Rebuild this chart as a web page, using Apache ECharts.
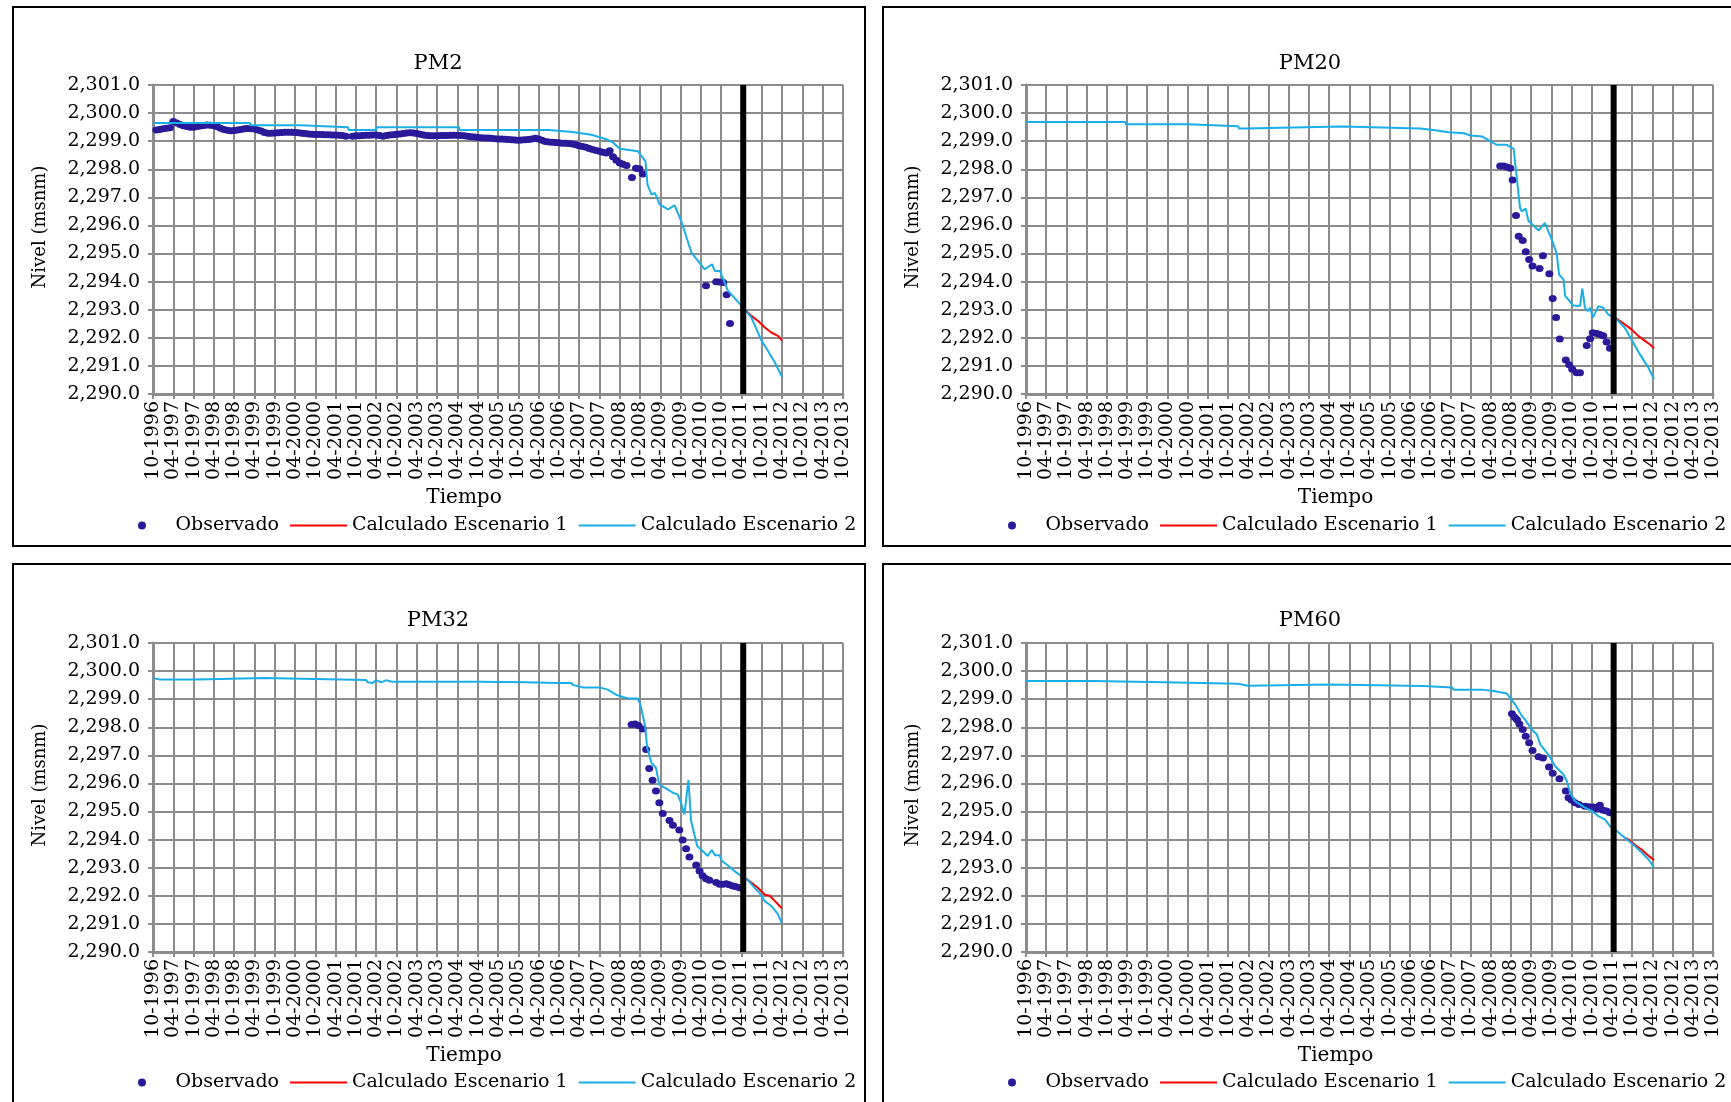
<!DOCTYPE html>
<html>
<head>
<meta charset="utf-8">
<script src="https://cdn.jsdelivr.net/npm/echarts@6/dist/echarts.min.js"></script>
<style>
html,body{margin:0;padding:0;background:#fff;width:1731px;height:1102px;overflow:hidden;position:relative;}
.panel{position:absolute;width:854px;height:541px;border:2px solid #000;box-sizing:border-box;background:#fff;}
.chart{position:absolute;left:0;top:0;width:850px;height:537px;}
</style>
</head>
<body>
<div class="panel" style="left:12px;top:6px"><div class="chart" id="c1"></div></div>
<div class="panel" style="left:882px;top:6px"><div class="chart" id="c2"></div></div>
<div class="panel" style="left:12px;top:563px"><div class="chart" id="c3"></div></div>
<div class="panel" style="left:882px;top:563px"><div class="chart" id="c4"></div></div>
<script>
// x values: months elapsed since October 1996
const xTickLabels = ['10-1996','04-1997','10-1997','04-1998','10-1998','04-1999','10-1999','04-2000','10-2000','04-2001','10-2001','04-2002','10-2002','04-2003','10-2003','04-2004','10-2004','04-2005','10-2005','04-2006','10-2006','04-2007','10-2007','04-2008','10-2008','04-2009','10-2009','04-2010','10-2010','04-2011','10-2011','04-2012','10-2012','04-2013','10-2013'];
const yMin = 2290, yMax = 2301, yStep = 1;
const cutMonth = 174.5;
const legendNames = ['Observado','Calculado Escenario 1','Calculado Escenario 2'];

// ---------- PM2 ----------
const pm2Obs = [[1,2299.40],[2,2299.42],[3,2299.44],[4,2299.46],[5,2299.48],[6,2299.70],[7,2299.65],[8,2299.59],[9,2299.55],[10,2299.52],[11,2299.50],[12,2299.50],[13,2299.52],[14,2299.54],[15,2299.56],[16,2299.58],[17,2299.57],[18,2299.55],[19,2299.51],[20,2299.46],[21,2299.42],[22,2299.39],[23,2299.37],[24,2299.38],[25,2299.40],[26,2299.42],[27,2299.44],[28,2299.45],[29,2299.44],[30,2299.43],[31,2299.40],[32,2299.36],[33,2299.31],[34,2299.28],[35,2299.28],[36,2299.29],[37,2299.30],[38,2299.31],[39,2299.32],[40,2299.32],[41,2299.32],[42,2299.31],[43,2299.30],[44,2299.28],[45,2299.27],[46,2299.26],[47,2299.25],[48,2299.24],[49,2299.24],[50,2299.24],[51,2299.23],[52,2299.23],[53,2299.22],[54,2299.22],[55,2299.21],[56,2299.20],[57,2299.18],[59,2299.18],[60,2299.19],[61,2299.19],[62,2299.20],[63,2299.21],[64,2299.21],[65,2299.22],[66,2299.22],[67,2299.20],[68,2299.18],[69,2299.20],[70,2299.22],[71,2299.23],[72,2299.25],[73,2299.26],[74,2299.27],[75,2299.29],[76,2299.30],[77,2299.29],[78,2299.27],[79,2299.25],[80,2299.22],[81,2299.20],[82,2299.19],[83,2299.19],[84,2299.19],[85,2299.20],[86,2299.20],[87,2299.20],[88,2299.21],[89,2299.21],[90,2299.21],[91,2299.20],[92,2299.19],[93,2299.18],[94,2299.16],[95,2299.15],[96,2299.13],[97,2299.12],[98,2299.11],[99,2299.11],[100,2299.10],[101,2299.09],[102,2299.08],[103,2299.08],[104,2299.07],[105,2299.06],[106,2299.05],[107,2299.04],[108,2299.03],[109,2299.04],[110,2299.05],[111,2299.06],[112,2299.08],[113,2299.10],[114,2299.08],[115,2299.03],[116,2298.99],[117,2298.97],[118,2298.96],[119,2298.95],[120,2298.94],[121,2298.93],[122,2298.93],[123,2298.92],[124,2298.90],[125,2298.87],[126,2298.84],[127,2298.81],[128,2298.78],[129,2298.74],[130,2298.70],[131,2298.67],[132,2298.64],[133,2298.61],[134,2298.58],[135,2298.66],[136,2298.45],[137,2298.32],[138,2298.22],[139,2298.18],[140,2298.13],[141.6,2297.71],[142.8,2298.04],[143.8,2298.02],[144.8,2297.83],[163.5,2293.85],[166.5,2294.00],[167.4,2293.99],[168.6,2293.97],[169.6,2293.53],[170.6,2292.51]];
const pm2Esc1 = [[174,2293.14],[174.9,2293.02],[176.9,2292.78],[178.9,2292.60],[180.9,2292.37],[182.8,2292.19],[184.8,2292.07],[186,2291.90]];
const pm2Esc2 = [[0,2299.65],[28.7,2299.65],[28.8,2299.57],[43.5,2299.57],[43.6,2299.50],[57.7,2299.50],[57.8,2299.40],[66,2299.40],[66.1,2299.50],[90.5,2299.50],[90.6,2299.40],[117,2299.40],[117.1,2299.33],[124,2299.33],[124.2,2299.29],[129.6,2299.23],[134.5,2299.05],[136,2298.95],[138,2298.73],[143.4,2298.64],[145.6,2298.28],[146.2,2297.45],[147.4,2297.10],[148.4,2297.16],[149.8,2296.74],[152.3,2296.57],[154.2,2296.72],[156.2,2296.15],[159.2,2295.03],[163.1,2294.44],[165.3,2294.62],[166.1,2294.38],[167.6,2294.38],[170,2293.67],[174,2293.14],[176.9,2292.73],[179.9,2291.90],[181.8,2291.54],[183.8,2291.13],[186,2290.60]];

// ---------- PM20 ----------
const pm20Obs = [[140.8,2298.12],[141.8,2298.12],[142.8,2298.08],[143.8,2298.04],[144.5,2297.62],[145.5,2296.35],[146.3,2295.62],[147.5,2295.46],[148.4,2295.06],[149.4,2294.79],[150.4,2294.56],[152.5,2294.47],[153.5,2294.92],[155.4,2294.28],[156.4,2293.40],[157.4,2292.72],[158.5,2291.96],[160.3,2291.21],[161.3,2291.04],[162.2,2290.88],[163.5,2290.76],[164.5,2290.76],[166.5,2291.73],[167.5,2291.97],[168.3,2292.18],[169.5,2292.15],[170.4,2292.12],[171.4,2292.07],[172.4,2291.85],[173.4,2291.63]];
const pm20Esc1 = [[174.9,2292.72],[175.4,2292.66],[177.8,2292.48],[179.8,2292.30],[181.8,2292.07],[183.8,2291.89],[185.2,2291.77],[186.5,2291.63]];
const pm20Esc2 = [[0,2299.68],[29.5,2299.68],[29.6,2299.60],[48,2299.60],[48.1,2299.53],[63,2299.53],[63.3,2299.45],[65,2299.45],[65.3,2299.52],[94,2299.52],[94.2,2299.45],[117,2299.45],[117.2,2299.40],[121,2299.40],[121.1,2299.34],[125.5,2299.32],[125.7,2299.28],[130,2299.28],[132,2299.20],[135.4,2299.17],[137.9,2298.99],[139.8,2298.87],[142.8,2298.87],[144.8,2298.73],[145.8,2297.63],[146.7,2296.62],[147.2,2296.50],[148.4,2296.60],[149.2,2296.17],[152.2,2295.82],[154.1,2296.09],[156.3,2295.44],[157.6,2294.99],[158.3,2294.25],[159.6,2294.08],[160.1,2293.49],[162.5,2293.15],[164.5,2293.13],[165.2,2293.75],[166,2293.07],[166.8,2292.95],[167.5,2293.07],[168.3,2292.72],[170,2293.13],[171.4,2293.07],[172.9,2292.83],[174.9,2292.72],[177.8,2292.36],[180.3,2291.83],[182.3,2291.41],[184.8,2290.94],[186.5,2290.53]];

// ---------- PM32 ----------
const pm32Obs = [[141.5,2298.10],[142.5,2298.12],[143.5,2298.06],[144.8,2297.94],[145.8,2297.21],[146.7,2296.53],[147.7,2296.11],[148.7,2295.73],[149.7,2295.31],[150.7,2294.93],[152.7,2294.68],[153.7,2294.51],[155.6,2294.34],[156.6,2293.99],[157.6,2293.68],[158.6,2293.38],[160.6,2293.10],[161.6,2292.88],[162.5,2292.71],[163.5,2292.61],[164.5,2292.55],[166.5,2292.47],[167.5,2292.41],[168.5,2292.41],[169.5,2292.43],[170.4,2292.39],[171.4,2292.35],[172.4,2292.32],[173.4,2292.29]];
const pm32Esc1 = [[173.9,2292.71],[175.9,2292.56],[176.9,2292.47],[178.8,2292.29],[180.8,2292.05],[182.3,2292.00],[183.8,2291.82],[185.9,2291.56]];
const pm32Esc2 = [[0,2299.75],[2,2299.70],[13,2299.70],[13.5,2299.75],[33,2299.75],[33.5,2299.68],[63,2299.68],[63.5,2299.60],[65,2299.58],[66,2299.68],[67.5,2299.60],[69,2299.68],[70.5,2299.62],[96,2299.62],[96.5,2299.60],[110,2299.60],[110.5,2299.62],[119.6,2299.58],[123.5,2299.58],[124.3,2299.50],[127,2299.42],[132,2299.42],[134.4,2299.34],[136.9,2299.16],[138.9,2299.08],[140.8,2299.02],[143.3,2299.02],[144.1,2298.81],[145.5,2298.04],[146.1,2297.27],[147.4,2296.73],[148.7,2296.56],[149.7,2295.96],[151.2,2295.85],[153.7,2295.67],[155.1,2295.61],[156.1,2295.31],[157.1,2294.90],[158.3,2296.12],[159.1,2294.66],[160.9,2293.77],[162.8,2293.56],[164,2293.42],[165.2,2293.63],[166.2,2293.44],[167.5,2293.44],[168.2,2293.24],[169.9,2293.09],[171.9,2292.88],[173.9,2292.71],[175.9,2292.56],[177.8,2292.29],[179.3,2292.11],[180.8,2291.82],[182.8,2291.64],[184.8,2291.34],[185.9,2291.02]];

// ---------- PM60 ----------
const pm60Obs = [[144.3,2298.48],[145.1,2298.36],[145.8,2298.27],[146.5,2298.12],[147.5,2297.92],[148.4,2297.68],[149.4,2297.45],[150.4,2297.17],[152.2,2296.95],[153.5,2296.91],[155.3,2296.59],[156.4,2296.36],[158.4,2296.17],[160.3,2295.73],[161.1,2295.49],[162,2295.41],[163,2295.31],[164.2,2295.25],[166,2295.19],[167.2,2295.17],[168.5,2295.16],[169.5,2295.10],[170.4,2295.22],[171.4,2295.05],[172.4,2295.02],[173.4,2294.96]];
const pm60Esc1 = [[177.8,2294.07],[178.8,2294.01],[181.3,2293.77],[182.8,2293.65],[184.3,2293.48],[186.5,2293.27]];
const pm60Esc2 = [[0,2299.65],[20,2299.65],[20.2,2299.60],[41,2299.60],[41.2,2299.55],[63,2299.55],[63.2,2299.48],[66,2299.48],[66.2,2299.52],[90,2299.52],[90.2,2299.47],[118,2299.47],[118.2,2299.42],[126.5,2299.42],[127,2299.34],[135.4,2299.34],[135.9,2299.28],[139.3,2299.28],[139.8,2299.22],[142.8,2299.20],[144.1,2298.99],[145.5,2298.77],[147,2298.45],[148.2,2298.27],[150.2,2297.92],[151.7,2297.74],[152.7,2297.39],[155.1,2297.03],[157.1,2296.62],[159.6,2296.32],[160.6,2296.08],[161.6,2295.67],[163,2295.37],[166,2295.14],[168,2295.02],[169.9,2294.84],[171.9,2294.72],[173.4,2294.48],[175.4,2294.31],[177.8,2294.07],[180.8,2293.77],[182.8,2293.54],[184.8,2293.30],[186.5,2293.00]];

const FONT = "'DejaVu Serif','Liberation Serif',serif";
const GRIDC = '#8c8c8c';

function fmtY(v){
  const s = Number(v).toFixed(1);
  const parts = s.split('.');
  return parts[0].replace(/\B(?=(\d{3})+(?!\d))/g, ',') + '.' + parts[1];
}

function makeOption(title, obs, esc1, esc2, L){
  return {
    animation: false,
    backgroundColor: '#fff',
    title: {
      text: title, left: L.titleX, top: 45, textAlign: 'center', padding: 0,
      textStyle: {fontFamily: FONT, fontSize: 21, fontWeight: 'normal', color: '#000'}
    },
    legend: {
      data: [
        {name: legendNames[0]},
        {name: legendNames[1], itemStyle: {color: 'rgba(0,0,0,0)', borderWidth: 0, opacity: 0}},
        {name: legendNames[2], itemStyle: {color: 'rgba(0,0,0,0)', borderWidth: 0, opacity: 0}}
      ],
      left: 124, top: 508, width: 800, padding: 0,
      itemWidth: 57, itemHeight: 8, itemGap: 10,
      textStyle: {fontFamily: FONT, fontSize: 19, color: '#000'}
    },
    grid: {left: L.left, top: L.top, width: L.width, height: 309, containLabel: false},
    xAxis: {
      type: 'value', min: 0, max: 204, interval: 6,
      name: 'Tiempo', nameLocation: 'middle', nameGap: 94,
      nameTextStyle: {fontFamily: FONT, fontSize: 20, color: '#000', padding: [0, 68, 0, 0]},
      axisLine: {show: true, lineStyle: {color: GRIDC, width: 3}},
      axisTick: {show: true, length: 5, lineStyle: {color: GRIDC, width: 2}},
      splitLine: {show: true, lineStyle: {color: GRIDC, width: 2}},
      axisLabel: {
        rotate: 90, margin: 7, fontFamily: FONT, fontSize: 19, color: '#000',
        formatter: function(v){ return xTickLabels[Math.round(v / 6)] || ''; }
      }
    },
    yAxis: {
      type: 'value', min: yMin, max: yMax, interval: yStep,
      name: 'Nivel (msnm)', nameLocation: 'middle', nameGap: 104,
      nameTextStyle: {fontFamily: FONT, fontSize: 18, color: '#000', padding: [0, 0, 0, 25]},
      axisLine: {show: true, lineStyle: {color: GRIDC, width: 3}},
      axisTick: {show: true, length: 5, lineStyle: {color: GRIDC, width: 2}},
      splitLine: {show: true, lineStyle: {color: GRIDC, width: 2}},
      axisLabel: {margin: 13, fontFamily: FONT, fontSize: 19, color: '#000', formatter: fmtY}
    },
    series: [
      {name: 'Observado', type: 'scatter', data: obs, symbol: 'circle', symbolSize: [8, 7],
       itemStyle: {color: '#2a1a9a', opacity: 1}, z: 2},
      {name: 'Calculado Escenario 1', type: 'line', data: esc1, symbol: 'none', showSymbol: false,
       lineStyle: {color: '#ff0000', width: 2}, itemStyle: {color: '#ff0000'}, z: 3},
      {name: 'Calculado Escenario 2', type: 'line', data: esc2, symbol: 'none', showSymbol: false,
       lineStyle: {color: '#1aaee8', width: 2}, itemStyle: {color: '#1aaee8'}, z: 4},
      {name: 'corte', type: 'line', data: [[cutMonth, yMin], [cutMonth, yMax]], symbol: 'none',
       lineStyle: {color: '#000', width: 6}, itemStyle: {color: '#000'}, z: 5, silent: true}
    ]
  };
}

const layoutL = {left: 139, width: 690, titleX: 424};
const layoutR = {left: 142, width: 687, titleX: 426};
const charts = [
  ['c1', 'PM2', pm2Obs, pm2Esc1, pm2Esc2, Object.assign({top: 77}, layoutL)],
  ['c2', 'PM20', pm20Obs, pm20Esc1, pm20Esc2, Object.assign({top: 77}, layoutR)],
  ['c3', 'PM32', pm32Obs, pm32Esc1, pm32Esc2, Object.assign({top: 78}, layoutL)],
  ['c4', 'PM60', pm60Obs, pm60Esc1, pm60Esc2, Object.assign({top: 78}, layoutR)]
];
charts.forEach(function(c){
  const ch = echarts.init(document.getElementById(c[0]), null, {renderer: 'canvas'});
  ch.setOption(makeOption(c[1], c[2], c[3], c[4], c[5]));
});
</script>
</body>
</html>
